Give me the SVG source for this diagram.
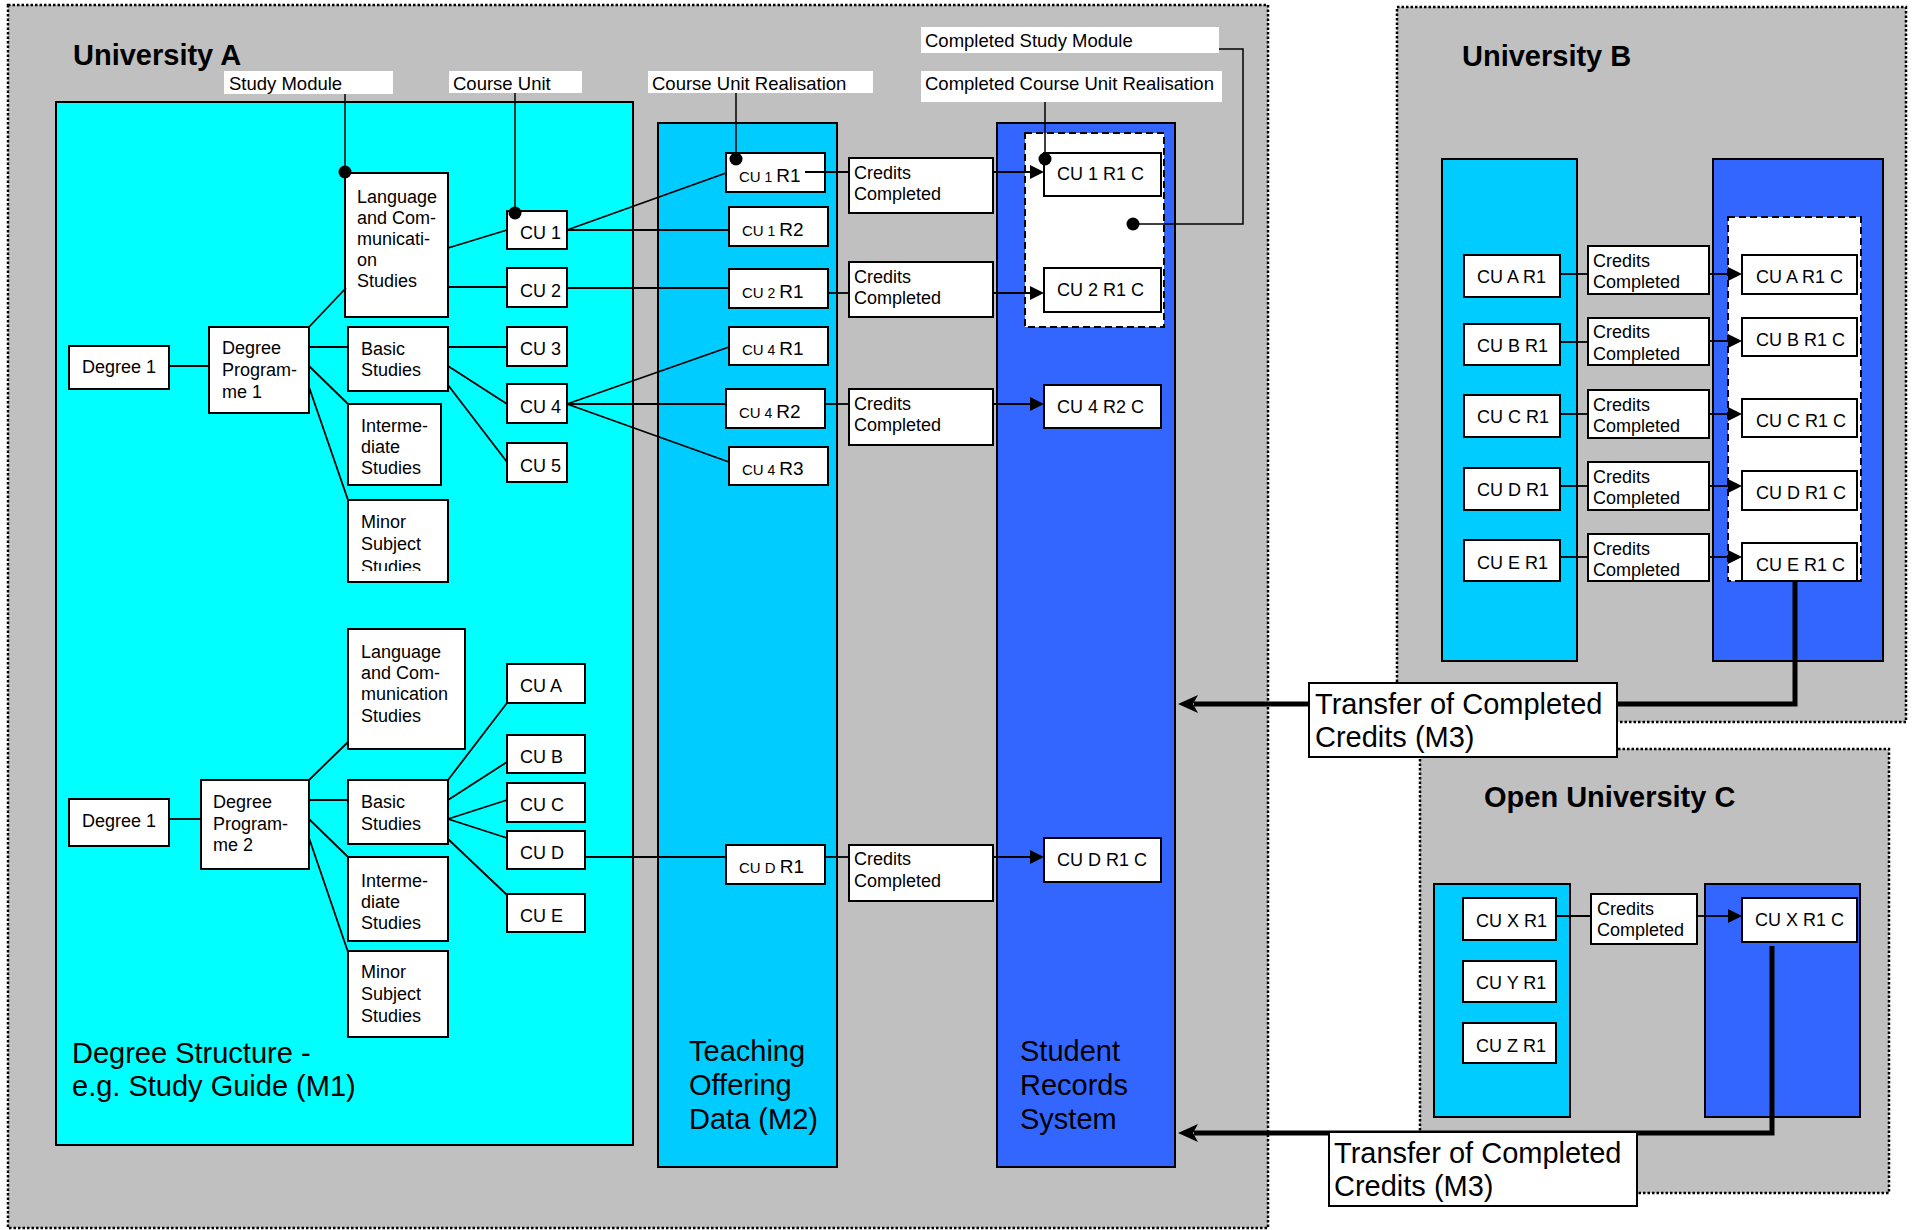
<svg xmlns="http://www.w3.org/2000/svg" width="1914" height="1230" viewBox="0 0 1914 1230">
<defs>
<style>
text{font-family:"Liberation Sans",Arial,sans-serif;fill:#000;font-size:18px}
.lt{font-size:18.5px}
.big{font-size:29px}
.title{font-size:29px;font-weight:bold}
.uni{fill:#C0C0C0;stroke:#000;stroke-width:2.5;stroke-dasharray:2.5 2}
.m1{fill:#00FFFF;stroke:#000;stroke-width:2}
.m2{fill:#00CCFF;stroke:#000;stroke-width:2}
.srs{fill:#3366FF;stroke:#000;stroke-width:2}
.box{fill:#fff;stroke:#000;stroke-width:2}
.lbl{fill:#fff}
.dash{fill:#fff;stroke:#000;stroke-width:2;stroke-dasharray:7 4}
.ln{stroke:#000;stroke-width:1.8;fill:none}
.thin{stroke:#000;stroke-width:1.5;fill:none}
.arr{stroke:#000;stroke-width:1.8;fill:none;marker-end:url(#ah)}
.tarr{stroke:#000;stroke-width:5;fill:none;marker-end:url(#ahb)}
</style>
<marker id="ah" viewBox="0 0 14 14" refX="0" refY="7" markerWidth="14" markerHeight="14" markerUnits="userSpaceOnUse" orient="auto"><path d="M0,0 L14,7 L0,14 z" fill="#000"/></marker>
<marker id="ahb" viewBox="0 0 20 18" refX="4" refY="9" markerWidth="20" markerHeight="18" markerUnits="userSpaceOnUse" orient="auto"><path d="M0,0 L20,9 L0,18 L5,9 z" fill="#000"/></marker>
<clipPath id="clipMinor1"><rect x="348" y="500" width="100" height="71"/></clipPath>
</defs>

<!-- Containers -->
<g id="univ-a">
<rect class="uni" x="8" y="5" width="1260" height="1223"/>
<text class="title" x="73" y="65">University A</text>
</g>
<g id="univ-b">
<rect class="uni" x="1397" y="7" width="509" height="715"/>
<text class="title" x="1462" y="66">University B</text>
</g>
<g id="univ-c">
<rect class="uni" x="1420" y="749" width="469" height="444"/>
<text class="title" x="1484" y="807">Open University C</text>
</g>

<!-- Panels University A -->
<g id="m1-panel">
<rect class="m1" x="56" y="102" width="577" height="1043"/>
<text class="big" x="72" y="1063">Degree Structure -</text>
<text class="big" x="72" y="1096">e.g. Study Guide (M1)</text>
</g>
<g id="m2-panel">
<rect class="m2" x="658" y="123" width="179" height="1044"/>
<text class="big" x="689" y="1061">Teaching</text>
<text class="big" x="689" y="1095">Offering</text>
<text class="big" x="689" y="1129">Data (M2)</text>
</g>
<g id="srs-panel">
<rect class="srs" x="997" y="123" width="178" height="1044"/>
<text class="big" x="1020" y="1061">Student</text>
<text class="big" x="1020" y="1095">Records</text>
<text class="big" x="1020" y="1129">System</text>
</g>
<g id="completed-module">
<rect class="dash" x="1025" y="133" width="139" height="194"/>
</g>

<!-- Panels University B -->
<g id="b-m2-panel"><rect class="m2" x="1442" y="159" width="135" height="502"/></g>
<g id="b-srs-panel"><rect class="srs" x="1713" y="159" width="170" height="502"/></g>
<g id="b-completed-module"><rect class="dash" x="1728" y="217" width="133" height="364"/></g>

<!-- Panels Open University C -->
<g id="c-m2-panel"><rect class="m2" x="1434" y="884" width="136" height="233"/></g>
<g id="c-srs-panel"><rect class="srs" x="1705" y="884" width="155" height="233"/></g>

<!-- Top labels -->
<g id="lbl-study-module"><rect class="lbl" x="224" y="71" width="169" height="23"/><text class="lt" x="229" y="90">Study Module</text></g>
<g id="lbl-course-unit"><rect class="lbl" x="449" y="71" width="133" height="22"/><text class="lt" x="453" y="90">Course Unit</text></g>
<g id="lbl-cur"><rect class="lbl" x="648" y="71" width="225" height="22"/><text class="lt" x="652" y="90">Course Unit Realisation</text></g>
<g id="lbl-csm"><rect class="lbl" x="921" y="27" width="298" height="26"/><text class="lt" x="925" y="47">Completed Study Module</text></g>
<g id="lbl-ccur"><rect class="lbl" x="921" y="71" width="301" height="31"/><text class="lt" x="925" y="90">Completed Course Unit Realisation</text></g>

<!-- Degree tree 1 -->
<g id="degree1a"><rect class="box" x="69" y="346" width="100" height="43"/><text x="82" y="373">Degree 1</text></g>
<g id="dp1"><rect class="box" x="209" y="327" width="100" height="86"/><text x="222" y="354">Degree</text><text x="222" y="376">Program-</text><text x="222" y="398">me 1</text></g>
<g id="lang1"><rect class="box" x="345" y="173" width="103" height="144"/><text x="357" y="203">Language</text><text x="357" y="224">and Com-</text><text x="357" y="245">municati-</text><text x="357" y="266">on</text><text x="357" y="287">Studies</text></g>
<g id="basic1"><rect class="box" x="348" y="327" width="100" height="64"/><text x="361" y="355">Basic</text><text x="361" y="376">Studies</text></g>
<g id="inter1"><rect class="box" x="348" y="404" width="93" height="81"/><text x="361" y="432">Interme-</text><text x="361" y="453">diate</text><text x="361" y="474">Studies</text></g>
<g id="minor1"><rect class="box" x="348" y="500" width="100" height="82"/><g clip-path="url(#clipMinor1)"><text x="361" y="528">Minor</text><text x="361" y="550">Subject</text><text x="361" y="573">Studies</text></g></g>
<g id="cu1"><rect class="box" x="507" y="211" width="60" height="38"/><text x="520" y="239">CU 1</text></g>
<g id="cu2"><rect class="box" x="507" y="268" width="60" height="39"/><text x="520" y="297">CU 2</text></g>
<g id="cu3"><rect class="box" x="507" y="327" width="60" height="39"/><text x="520" y="355">CU 3</text></g>
<g id="cu4"><rect class="box" x="507" y="384" width="60" height="39"/><text x="520" y="413">CU 4</text></g>
<g id="cu5"><rect class="box" x="507" y="443" width="60" height="39"/><text x="520" y="472">CU 5</text></g>

<!-- Degree tree 2 -->
<g id="degree1b"><rect class="box" x="69" y="799" width="100" height="47"/><text x="82" y="827">Degree 1</text></g>
<g id="dp2"><rect class="box" x="201" y="780" width="108" height="89"/><text x="213" y="808">Degree</text><text x="213" y="830">Program-</text><text x="213" y="851">me 2</text></g>
<g id="lang2"><rect class="box" x="348" y="629" width="117" height="120"/><text x="361" y="658">Language</text><text x="361" y="679">and Com-</text><text x="361" y="700">munication</text><text x="361" y="722">Studies</text></g>
<g id="basic2"><rect class="box" x="348" y="780" width="100" height="64"/><text x="361" y="808">Basic</text><text x="361" y="830">Studies</text></g>
<g id="inter2"><rect class="box" x="348" y="857" width="100" height="84"/><text x="361" y="887">Interme-</text><text x="361" y="908">diate</text><text x="361" y="929">Studies</text></g>
<g id="minor2"><rect class="box" x="348" y="951" width="100" height="86"/><text x="361" y="978">Minor</text><text x="361" y="1000">Subject</text><text x="361" y="1022">Studies</text></g>
<g id="cua"><rect class="box" x="507" y="664" width="78" height="39"/><text x="520" y="692">CU A</text></g>
<g id="cub"><rect class="box" x="507" y="735" width="78" height="38"/><text x="520" y="763">CU B</text></g>
<g id="cuc"><rect class="box" x="507" y="783" width="78" height="39"/><text x="520" y="811">CU C</text></g>
<g id="cud"><rect class="box" x="507" y="831" width="78" height="38"/><text x="520" y="859">CU D</text></g>
<g id="cue"><rect class="box" x="507" y="894" width="78" height="38"/><text x="520" y="922">CU E</text></g>

<!-- Realisations (M2) -->
<g id="cu1r1"><rect class="box" x="726" y="153" width="99" height="39"/><text x="739" y="182"><tspan font-size="15">CU</tspan><tspan font-size="14"> 1 </tspan><tspan font-size="19">R1</tspan></text></g>
<g id="cu1r2"><rect class="box" x="729" y="207" width="99" height="39"/><text x="742" y="236"><tspan font-size="15">CU</tspan><tspan font-size="14"> 1 </tspan><tspan font-size="19">R2</tspan></text></g>
<g id="cu2r1"><rect class="box" x="729" y="269" width="99" height="39"/><text x="742" y="298"><tspan font-size="15">CU</tspan><tspan font-size="14"> 2 </tspan><tspan font-size="19">R1</tspan></text></g>
<g id="cu4r1"><rect class="box" x="729" y="327" width="99" height="38"/><text x="742" y="355"><tspan font-size="15">CU</tspan><tspan font-size="14"> 4 </tspan><tspan font-size="19">R1</tspan></text></g>
<g id="cu4r2"><rect class="box" x="726" y="389" width="99" height="39"/><text x="739" y="418"><tspan font-size="15">CU</tspan><tspan font-size="14"> 4 </tspan><tspan font-size="19">R2</tspan></text></g>
<g id="cu4r3"><rect class="box" x="729" y="447" width="99" height="38"/><text x="742" y="475"><tspan font-size="15">CU</tspan><tspan font-size="14"> 4 </tspan><tspan font-size="19">R3</tspan></text></g>
<g id="cudr1"><rect class="box" x="726" y="845" width="99" height="39"/><text x="739" y="873"><tspan font-size="15">CU D </tspan><tspan font-size="19">R1</tspan></text></g>

<!-- Credits completed A -->
<g id="cc-a1"><rect class="box" x="849" y="158" width="144" height="55"/><text x="854" y="179">Credits</text><text x="854" y="200">Completed</text></g>
<g id="cc-a2"><rect class="box" x="849" y="262" width="144" height="55"/><text x="854" y="283">Credits</text><text x="854" y="304">Completed</text></g>
<g id="cc-a3"><rect class="box" x="849" y="389" width="144" height="56"/><text x="854" y="410">Credits</text><text x="854" y="431">Completed</text></g>
<g id="cc-a4"><rect class="box" x="849" y="845" width="144" height="56"/><text x="854" y="865">Credits</text><text x="854" y="887">Completed</text></g>

<!-- Completed (SRS A) -->
<g id="cu1r1c"><rect class="box" x="1044" y="153" width="117" height="43"/><text x="1057" y="180">CU 1 R1 C</text></g>
<g id="cu2r1c"><rect class="box" x="1044" y="268" width="117" height="44"/><text x="1057" y="296">CU 2 R1 C</text></g>
<g id="cu4r2c"><rect class="box" x="1044" y="385" width="117" height="43"/><text x="1057" y="413">CU 4 R2 C</text></g>
<g id="cudr1c"><rect class="box" x="1044" y="838" width="117" height="44"/><text x="1057" y="866">CU D R1 C</text></g>

<!-- University B nodes -->
<g id="b-cuar1"><rect class="box" x="1464" y="255" width="96" height="42"/><text x="1477" y="283">CU A R1</text></g>
<g id="b-cubr1"><rect class="box" x="1464" y="324" width="96" height="41"/><text x="1477" y="352">CU B R1</text></g>
<g id="b-cucr1"><rect class="box" x="1464" y="395" width="96" height="42"/><text x="1477" y="423">CU C R1</text></g>
<g id="b-cudr1"><rect class="box" x="1464" y="468" width="96" height="42"/><text x="1477" y="496">CU D R1</text></g>
<g id="b-cuer1"><rect class="box" x="1464" y="540" width="96" height="41"/><text x="1477" y="569">CU E R1</text></g>
<g id="b-cc1"><rect class="box" x="1588" y="246" width="121" height="48"/><text x="1593" y="267">Credits</text><text x="1593" y="288">Completed</text></g>
<g id="b-cc2"><rect class="box" x="1588" y="318" width="121" height="47"/><text x="1593" y="338">Credits</text><text x="1593" y="360">Completed</text></g>
<g id="b-cc3"><rect class="box" x="1588" y="390" width="121" height="48"/><text x="1593" y="411">Credits</text><text x="1593" y="432">Completed</text></g>
<g id="b-cc4"><rect class="box" x="1588" y="462" width="121" height="48"/><text x="1593" y="483">Credits</text><text x="1593" y="504">Completed</text></g>
<g id="b-cc5"><rect class="box" x="1588" y="534" width="121" height="47"/><text x="1593" y="555">Credits</text><text x="1593" y="576">Completed</text></g>
<g id="b-cuar1c"><rect class="box" x="1742" y="255" width="115" height="39"/><text x="1756" y="283">CU A R1 C</text></g>
<g id="b-cubr1c"><rect class="box" x="1742" y="318" width="115" height="38"/><text x="1756" y="346">CU B R1 C</text></g>
<g id="b-cucr1c"><rect class="box" x="1742" y="399" width="115" height="38"/><text x="1756" y="427">CU C R1 C</text></g>
<g id="b-cudr1c"><rect class="box" x="1742" y="471" width="115" height="39"/><text x="1756" y="499">CU D R1 C</text></g>
<g id="b-cuer1c"><rect class="box" x="1742" y="543" width="115" height="38"/><text x="1756" y="571">CU E R1 C</text></g>

<!-- Open University C nodes -->
<g id="c-cuxr1"><rect class="box" x="1463" y="898" width="93" height="42"/><text x="1476" y="927">CU X R1</text></g>
<g id="c-cuyr1"><rect class="box" x="1463" y="961" width="93" height="41"/><text x="1476" y="989">CU Y R1</text></g>
<g id="c-cuzr1"><rect class="box" x="1463" y="1023" width="93" height="40"/><text x="1476" y="1052">CU Z R1</text></g>
<g id="c-cc"><rect class="box" x="1591" y="894" width="106" height="50"/><text x="1597" y="915">Credits</text><text x="1597" y="936">Completed</text></g>
<g id="c-cuxr1c"><rect class="box" x="1742" y="898" width="115" height="44"/><text x="1755" y="926">CU X R1 C</text></g>

<!-- Connectors -->
<g id="connectors">
<path class="thin" d="M345,94 V172"/><circle cx="345" cy="172" r="6.5"/>
<path class="thin" d="M515,93 V213"/><circle cx="515" cy="213" r="6.5"/>
<path class="thin" d="M736,93 V159"/><circle cx="736" cy="159" r="6.5"/>
<path class="thin" d="M1045,102 V159"/><circle cx="1045" cy="159" r="6.5"/>
<path class="thin" d="M1219,49 H1243 V224 H1133"/><circle cx="1133" cy="224" r="6.5"/>
<path class="ln" d="M169,366 H209"/>
<path class="ln" d="M309,327 L346,288"/>
<path class="ln" d="M309,347 H348"/>
<path class="ln" d="M309,366 L348,404"/>
<path class="ln" d="M309,387 L348,500"/>
<path class="ln" d="M448,248 L507,230"/>
<path class="ln" d="M448,287 H507"/>
<path class="ln" d="M448,347 H507"/>
<path class="ln" d="M448,366 L507,404"/>
<path class="ln" d="M448,385 L507,462"/>
<path class="ln" d="M567,230 L726,173"/>
<path class="ln" d="M567,230 H729"/>
<path class="ln" d="M567,288 H729"/>
<path class="ln" d="M567,404 L729,347"/>
<path class="ln" d="M567,404 H726"/>
<path class="ln" d="M567,404 L729,462"/>
<path class="ln" d="M805,172 H849"/>
<path class="ln" d="M828,293 H849"/>
<path class="ln" d="M825,404 H849"/>
<path class="arr" d="M993,172 H1030"/>
<path class="arr" d="M993,293 H1030"/>
<path class="arr" d="M993,404 H1030"/>
<path class="ln" d="M169,819 H201"/>
<path class="ln" d="M309,780 L348,742"/>
<path class="ln" d="M309,800 H348"/>
<path class="ln" d="M309,819 L348,857"/>
<path class="ln" d="M309,838 L348,952"/>
<path class="ln" d="M448,780 L507,703"/>
<path class="ln" d="M448,800 L507,762"/>
<path class="ln" d="M448,819 L507,800"/>
<path class="ln" d="M448,819 L507,838"/>
<path class="ln" d="M448,839 L507,895"/>
<path class="ln" d="M585,857 H726"/>
<path class="ln" d="M825,857 H849"/>
<path class="arr" d="M993,857 H1030"/>
<path class="ln" d="M1560,274 H1588"/>
<path class="ln" d="M1560,342 H1588"/>
<path class="ln" d="M1560,414 H1588"/>
<path class="ln" d="M1560,486 H1588"/>
<path class="ln" d="M1560,557 H1588"/>
<path class="arr" d="M1709,274 H1728"/>
<path class="arr" d="M1709,341 H1728"/>
<path class="arr" d="M1709,414 H1728"/>
<path class="arr" d="M1709,486 H1728"/>
<path class="arr" d="M1709,557 H1728"/>
<path class="ln" d="M1556,916 H1591"/>
<path class="arr" d="M1697,916 H1728"/>
<path class="tarr" d="M1795,581 V704 H1194"/>
<path class="tarr" d="M1772,946 V1133 H1194"/>
</g>

<!-- Transfer labels -->
<g id="transfer-b"><rect class="box" x="1309" y="683" width="308" height="74"/><text class="big" x="1315" y="714">Transfer of Completed</text><text class="big" x="1315" y="747">Credits (M3)</text></g>
<g id="transfer-c"><rect class="box" x="1329" y="1132" width="308" height="74"/><text class="big" x="1334" y="1163">Transfer of Completed</text><text class="big" x="1334" y="1196">Credits (M3)</text></g>
</svg>
